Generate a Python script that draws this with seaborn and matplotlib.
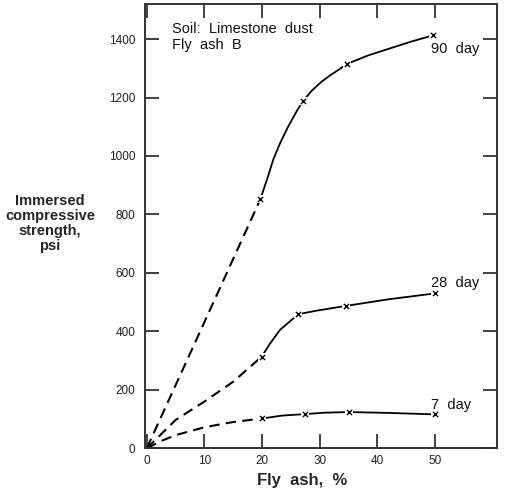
import matplotlib
matplotlib.use("Agg")
import matplotlib.pyplot as plt
import seaborn as sns
import pandas as pd

# ---- data ----
series_names = ["90  day", "28  day", "7  day"]

# measured points (x markers)
d90_x = [0, 19.7, 27.1, 34.7, 49.7]
d90_y = [0, 852, 1189, 1315, 1413]
d28_x = [0, 19.9, 26.3, 34.5, 50]
d28_y = [0, 313, 459, 487, 530]
d7_x = [0, 20, 27.4, 35, 50]
d7_y = [0, 102, 117, 124, 116]

# traced curve, dashed (extrapolated) part
d90_dash_x = [0, 10, 19.7]
d90_dash_y = [0, 432, 852]
d28_dash_x = [0, 5, 10, 15, 19.9]
d28_dash_y = [0, 97, 160, 228, 313]
d7_dash_x = [0, 2.5, 5, 10, 15, 20]
d7_dash_y = [0, 25, 45, 72, 90, 102]

# traced curve, solid part
d90_sol_x = [19.7, 21.0, 21.9, 23.1, 24.5, 26.1, 27.1, 28.7, 30.3, 31.8, 33.2, 34.7, 38.4, 42, 45.8, 49.7]
d90_sol_y = [852, 929, 986, 1043, 1100, 1157, 1189, 1225, 1254, 1276, 1294, 1315, 1344, 1367, 1391, 1413]
d28_sol_x = [19.9, 21.4, 23.1, 25.1, 26.3, 29.5, 34.5, 42, 50]
d28_sol_y = [313, 359, 405, 439, 459, 471, 487, 510, 530]
d7_sol_x = [20, 23.5, 27.4, 31, 35, 42, 50]
d7_sol_y = [102, 112, 117, 122, 124, 121, 116]

label_pos_x = [49.2, 49.2, 49.2]
label_pos_y = [1365, 566, 148]

x_ticks = [0, 10, 20, 30, 40, 50]
y_ticks = [0, 200, 400, 600, 800, 1000, 1200, 1400]

sns.set_style("ticks")
plt.rcParams["font.family"] = ["Liberation Sans", "DejaVu Sans"]

fig = plt.figure(figsize=(5.06, 4.94), dpi=100)
ax = fig.add_axes([0.2866, 0.0925, 0.6954, 0.8995])

dash_sets = [(d90_dash_x, d90_dash_y), (d28_dash_x, d28_dash_y), (d7_dash_x, d7_dash_y)]
sol_sets = [(d90_sol_x, d90_sol_y), (d28_sol_x, d28_sol_y), (d7_sol_x, d7_sol_y)]
meas_sets = [(d90_x, d90_y), (d28_x, d28_y), (d7_x, d7_y)]

for (dx, dy), (sx, sy) in zip(dash_sets, sol_sets):
    sns.lineplot(x=dx, y=dy, ax=ax, color="black", lw=1.5, sort=False,
                 estimator=None, linestyle=(0, (5, 3)))
    sns.lineplot(x=sx, y=sy, ax=ax, color="black", lw=1.3, sort=False,
                 estimator=None)

for mx, my in meas_sets:
    df = pd.DataFrame({"x": mx[1:], "y": my[1:]})
    ax.scatter(df["x"], df["y"], marker="s", s=40, color="white", zorder=4, linewidths=0)
    ax.scatter(df["x"], df["y"], marker="x", s=14, color="black", zorder=5, linewidths=1.0)

for name, lx, ly in zip(series_names, label_pos_x, label_pos_y):
    ax.text(lx, ly, name, fontsize=10.5, ha="left", va="center", color="#111111")

ax.text(4.3, 1434, "Soil:  Limestone  dust", fontsize=10.5, ha="left", va="center", color="#111111")
ax.text(4.3, 1379, "Fly  ash  B", fontsize=10.5, ha="left", va="center", color="#111111")

ax.set_xlim(-0.3, 60.7)
ax.set_ylim(0, 1520)
ax.set_xticks(x_ticks)
ax.set_yticks(y_ticks)
ax.set_xticklabels([str(t) for t in x_ticks])
ax.set_yticklabels([str(t) for t in y_ticks])
ax.tick_params(axis="both", direction="in", length=10, width=1.2, top=True, right=True,
               labelsize=8.5, colors="#222222")
ax.tick_params(axis="y", pad=7)
ax.tick_params(axis="x", pad=5)
for sp in ax.spines.values():
    sp.set_linewidth(1.4)
    sp.set_color("#333333")

ax.set_xlabel("")
ax.set_ylabel("")
fig.text(0.597, 0.028, "Fly  ash,  %", fontsize=12, fontweight="bold",
         ha="center", va="center")
fig.text(0.099, 0.548, "Immersed\ncompressive\nstrength,\npsi", fontsize=10.5,
         fontweight="bold", ha="center", va="center", linespacing=1.1)

fig.savefig("out.png", dpi=100)
